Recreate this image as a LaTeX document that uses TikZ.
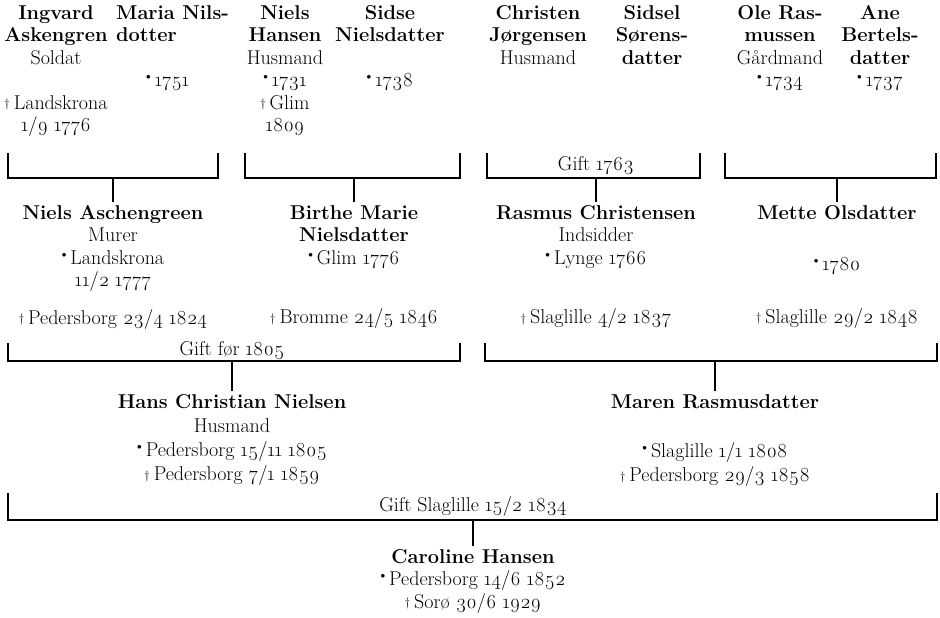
\documentclass[tikz,border=0pt]{standalone}
\usepackage{fontspec}
\setmainfont{Latin Modern Roman}[Numbers=OldStyle]
\usepackage{tikz}
\usetikzlibrary{positioning}

\newcommand{\pfont}{\fontsize{20}{22.5}\selectfont}
\newcommand{\bornmark}{\raisebox{7pt}{\fontsize{9}{9}\selectfont$\bullet$}\hspace{4pt}}
\newcommand{\deadmark}{\raisebox{1.5pt}{\fontsize{12}{12}\selectfont\textdagger}\hspace{4pt}}

\begin{document}
\begin{tikzpicture}[
    x=1pt, y=-1pt,
    person/.style={align=center, inner sep=0pt, anchor=north, font=\pfont},
    bracket/.style={line width=1.6pt, line join=miter},
    stem/.style={line width=1.6pt, shorten >=3pt},
    gift/.style={inner sep=0pt, font=\pfont, above=3pt}
]
    \useasboundingbox (0,0) rectangle (940,618);

    % Row 1: great-grandparents
    \node[person] (ingvard) at (56,5) {\textbf{Ingvard}\\\textbf{Askengren}\\Soldat\\[22.5pt]\deadmark Landskrona\\1/9 1776};
    \node[person, anchor=north west, align=left] (maria) at (116,5) {\textbf{Maria Nils-}\\\textbf{dotter}\\[22.5pt]\hspace*{1.5em}\bornmark 1751};
    \node[person] (nhansen) at (285,5) {\textbf{Niels}\\\textbf{Hansen}\\Husmand\\\bornmark 1731\\\deadmark Glim\\1809};
    \node[person] (sidse) at (390,5) {\textbf{Sidse}\\\textbf{Nielsdatter}\\[22.5pt]\bornmark 1738};
    \node[person] (christen) at (538,5) {\textbf{Christen}\\\textbf{Jørgensen}\\Husmand};
    \node[person] (sidsel) at (652,5) {\textbf{Sidsel}\\\textbf{Sørens-}\\\textbf{datter}};
    \node[person] (ole) at (780,5) {\textbf{Ole Ras-}\\\textbf{mussen}\\Gårdmand\\\bornmark 1734};
    \node[person] (ane) at (880,5) {\textbf{Ane}\\\textbf{Bertels-}\\\textbf{datter}\\\bornmark 1737};

    % Row 2: grandparents
    \node[person] (asch) at (113,205) {\textbf{Niels Aschengreen}\\Murer\\\bornmark Landskrona\\11/2 1777\\[15pt]\deadmark Pedersborg 23/4 1824};
    \node[person] (birthe) at (354,205) {\textbf{Birthe Marie}\\\textbf{Nielsdatter}\\\bornmark Glim 1776\\[37pt]\deadmark Bromme 24/5 1846};
    \node[person] (rasmus) at (596,205) {\textbf{Rasmus Christensen}\\Indsidder\\\bornmark Lynge 1766\\[37pt]\deadmark Slaglille 4/2 1837};
    \node[person] (mette) at (837,205) {\textbf{Mette Olsdatter}\\[29pt]\bornmark 1780\\[30pt]\deadmark Slaglille 29/2 1848};

    % Row 3: parents
    \node[person] (hans) at (232,394) {\textbf{Hans Christian Nielsen}\\[1.5pt]Husmand\\[2pt]\bornmark Pedersborg 15/11 1805\\[1.5pt]\deadmark Pedersborg 7/1 1859};
    \node[person] (maren) at (715,394) {\textbf{Maren Rasmusdatter}\\[27pt]\bornmark Slaglille 1/1 1808\\[1.5pt]\deadmark Pedersborg 29/3 1858};

    % Row 4
    \node[person] (caroline) at (473,549) {\textbf{Caroline Hansen}\\\bornmark Pedersborg 14/6 1852\\\deadmark Sorø 30/6 1929};

    % Marriages
    \coordinate (m1a) at (8,153);   \coordinate (m1b) at (218,153); \coordinate (m1) at (113,178);
    \coordinate (m2a) at (245,153); \coordinate (m2b) at (460,153); \coordinate (m2) at (354,178);
    \coordinate (m3a) at (487,153); \coordinate (m3b) at (700,153); \coordinate (m3) at (596,178);
    \coordinate (m4a) at (725,153); \coordinate (m4b) at (936,153); \coordinate (m4) at (837,178);
    \coordinate (m5a) at (8,343);   \coordinate (m5b) at (460,343); \coordinate (m5) at (232,361);
    \coordinate (m6a) at (485,343); \coordinate (m6b) at (937,343); \coordinate (m6) at (715,361);
    \coordinate (m7a) at (8,493);   \coordinate (m7b) at (937,493); \coordinate (m7) at (473,520);

    \draw[bracket] (m1a) |- (m1) -| (m1b);
    \draw[bracket] (m2a) |- (m2) -| (m2b);
    \draw[bracket] (m3a) |- (m3) -| (m3b);
    \draw[bracket] (m4a) |- (m4) -| (m4b);
    \draw[bracket] (m5a) |- (m5) -| (m5b);
    \draw[bracket] (m6a) |- (m6) -| (m6b);
    \draw[bracket] (m7a) |- (m7) -| (m7b);

    \node[gift] (g3) at (m3) {Gift 1763};
    \node[gift, above=1pt] (g5) at (m5) {Gift før 1805};
    \node[gift] (g7) at (m7) {Gift Slaglille 15/2 1834};

    % Descent
    \draw[stem] (m1) -- (asch);
    \draw[stem] (m2) -- (birthe);
    \draw[stem] (m3) -- (rasmus);
    \draw[stem] (m4) -- (mette);
    \draw[stem] (m5) -- (hans);
    \draw[stem] (m6) -- (maren);
    \draw[stem] (m7) -- (caroline);
\end{tikzpicture}
\end{document}
